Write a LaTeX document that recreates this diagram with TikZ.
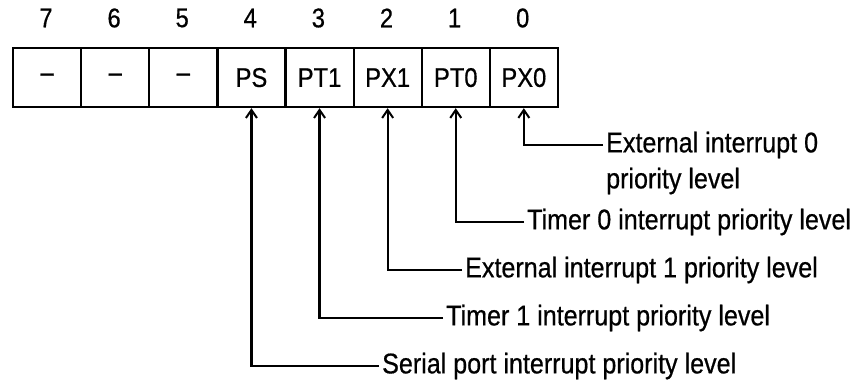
\documentclass[tikz,border=0pt]{standalone}
\usepackage{fontspec}
\setmainfont{Liberation Sans}[FakeStretch=0.88,FakeBold=0.6]
\usetikzlibrary{arrows.meta}
\begin{document}
\begin{tikzpicture}[x=1pt,y=1pt,
  cell/.style={draw=black,line width=2.2pt,minimum width=68.1pt,minimum height=59pt,inner sep=0pt,anchor=north west,font=\fontsize{27}{30}\selectfont},
  bitnum/.style={font=\fontsize{27}{30}\selectfont,inner sep=0pt},
  lbl/.style={anchor=west,inner xsep=3pt,inner ysep=0pt,font=\fontsize{28.5}{35}\selectfont},
  conn/.style={line width=2.2pt,-{Straight Barb[length=8pt,width=11pt,line width=2pt]}}]
\useasboundingbox (0,0) rectangle (860,-383);
% register cells
\node[cell] (c7) at (12,-47) {--};
\node[cell] (c6) at (80.1,-47) {--};
\node[cell] (c5) at (148.2,-47) {--};
\node[cell] (c4) at (216.3,-47) {PS};
\node[cell] (c3) at (284.4,-47) {PT1};
\node[cell] (c2) at (352.5,-47) {PX1};
\node[cell] (c1) at (420.6,-47) {PT0};
\node[cell] (c0) at (488.7,-47) {PX0};
% bit numbers
\node[bitnum] (n7) at (46,-18) {7};
\node[bitnum] (n6) at (114.1,-18) {6};
\node[bitnum] (n5) at (182.2,-18) {5};
\node[bitnum] (n4) at (250.3,-18) {4};
\node[bitnum] (n3) at (318.4,-18) {3};
\node[bitnum] (n2) at (386.5,-18) {2};
\node[bitnum] (n1) at (454.6,-18) {1};
\node[bitnum] (n0) at (522.7,-18) {0};
% labels
\node[lbl] (t0) at (603,-145) {External interrupt 0};
\node[lbl] (t0b) at ([yshift=-36pt]t0.west) {priority level};
\node[lbl] (t1) at (524,-222) {Timer 0 interrupt priority level};
\node[lbl] (t2) at (462,-270) {External interrupt 1 priority level};
\node[lbl] (t3) at (443,-318) {Timer 1 interrupt priority level};
\node[lbl] (t4) at (379,-366) {Serial port interrupt priority level};
% connectors
\draw[conn] (t0.west) -| (c0.south);
\draw[conn] (t1.west) -| (c1.south);
\draw[conn] (t2.west) -| (c2.south);
\draw[conn] (t3.west) -| (c3.south);
\draw[conn] (t4.west) -| (c4.south);
\end{tikzpicture}
\end{document}
